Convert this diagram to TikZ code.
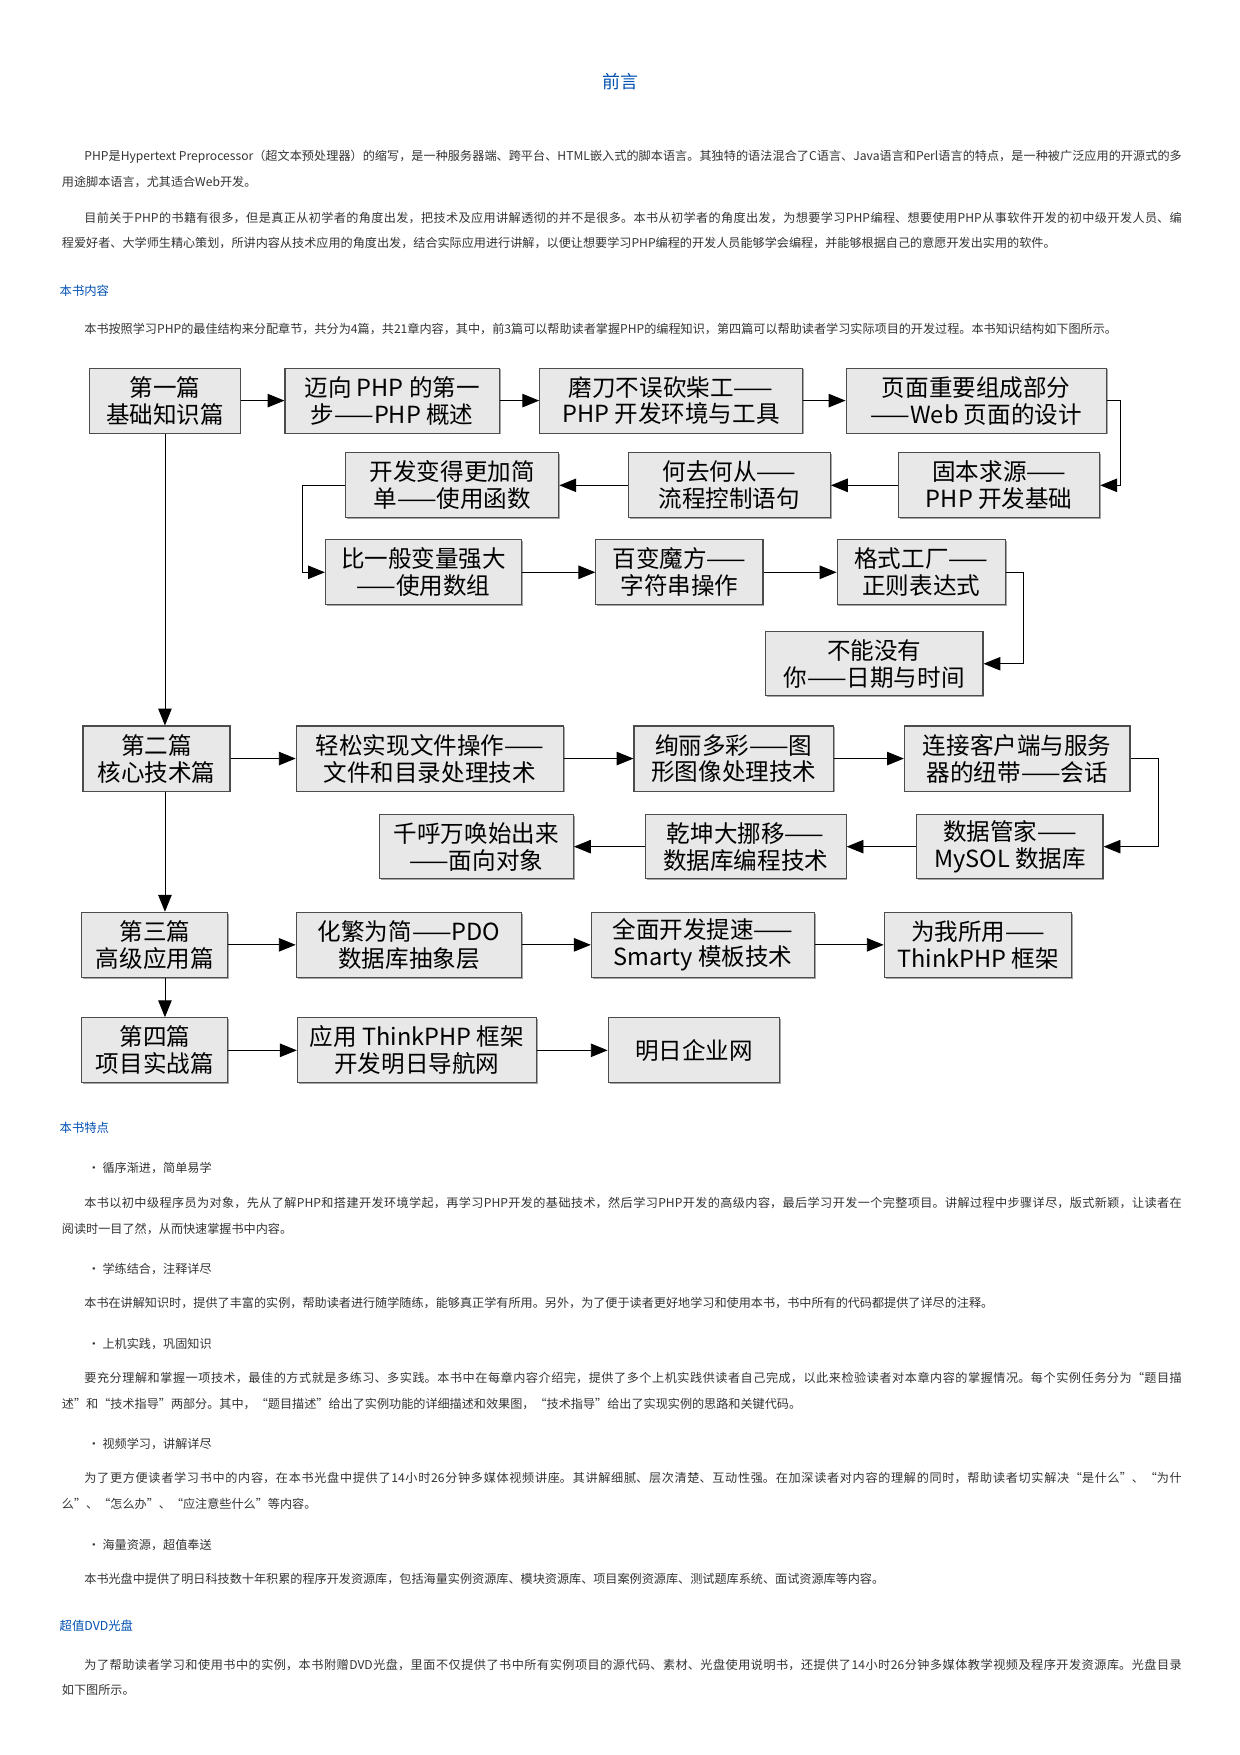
\documentclass[tikz,border=0pt]{standalone}
\usepackage{fontspec}
\setmainfont{Noto Sans CJK SC}
\usetikzlibrary{arrows.meta}
\XeTeXlinebreaklocale "zh"
\XeTeXlinebreakskip=0pt plus 1pt

\tikzset{
  part/.style={draw=black!70, fill=black!9, line width=1pt, minimum height=58pt,
    align=center, inner sep=1pt, font=\fontsize{21}{24}\selectfont,
    preaction={fill=black!35, transform canvas={shift={(1.2pt,-1.2pt)}}}},
  arr/.style={line width=0.8pt, -{Triangle[length=15pt,width=12pt]}},
  para/.style={anchor=north west, text width=998pt, align=justify, inner sep=0pt,
    font=\fontsize{10.8}{22.5}\selectfont, text=black!80},
  head/.style={anchor=west, inner sep=0pt, font=\fontsize{11}{13}\selectfont, text=blue!55!cyan!70!black},
  item/.style={anchor=west, inner sep=0pt, font=\fontsize{10.8}{12}\selectfont, text=black!80}
}

\begin{document}
\begin{tikzpicture}[x=1pt,y=-1pt]
\useasboundingbox (0,0) rectangle (1105,1564);

%TITEL UND EINLEITUNG
\node[inner sep=0pt, font=\fontsize{16}{18}\selectfont, text=blue!55!cyan!70!black] (title) at (553,73) {前言};
\node[para] (p1) at (55,134) {\hspace*{20pt}PHP是Hypertext Preprocessor（超文本预处理器）的缩写，是一种服务器端、跨平台、HTML嵌入式的脚本语言。其独特的语法混合了C语言、Java语言和Perl语言的特点，是一种被广泛应用的开源式的多\linebreak 用途脚本语言，尤其适合Web开发。};
\node[para] (p2) at (55,189) {\hspace*{20pt}目前关于PHP的书籍有很多，但是真正从初学者的角度出发，把技术及应用讲解透彻的并不是很多。本书从初学者的角度出发，为想要学习PHP编程、想要使用PHP从事软件开发的初中级开发人员、编\linebreak 程爱好者、大学师生精心策划，所讲内容从技术应用的角度出发，结合实际应用进行讲解，以便让想要学习PHP编程的开发人员能够学会编程，并能够根据自己的意愿开发出实用的软件。};
\node[head] (h1) at (53,259) {本书内容};
\node[para] (p3) at (55,288) {\hspace*{20pt}本书按照学习PHP的最佳结构来分配章节，共分为4篇，共21章内容，其中，前3篇可以帮助读者掌握PHP的编程知识，第四篇可以帮助读者学习实际项目的开发过程。本书知识结构如下图所示。};

%ZEILE 1
\node[part, minimum width=134pt] (a1) at (147,357) {第一篇\\基础知识篇};
\node[part, minimum width=191pt] (a2) at (349.5,357) {迈向 PHP 的第一\\步——PHP 概述};
\node[part, minimum width=234pt] (a3) at (598,357) {磨刀不误砍柴工——\\PHP 开发环境与工具};
\node[part, minimum width=232pt] (a4) at (870,357) {页面重要组成部分\\——Web 页面的设计};

%ZEILE 2
\node[part, minimum width=179pt] (b1) at (890.5,432.5) {固本求源——\\PHP 开发基础};
\node[part, minimum width=180pt] (b2) at (650,432.5) {何去何从——\\流程控制语句};
\node[part, minimum width=190pt] (b3) at (403,432.5) {开发变得更加简\\单——使用函数};

%ZEILE 3
\node[part, minimum width=175pt] (c1) at (377.5,510) {比一般变量强大\\——使用数组};
\node[part, minimum width=149pt] (c2) at (605.5,510) {百变魔方——\\字符串操作};
\node[part, minimum width=150pt] (c3) at (821,510) {格式工厂——\\正则表达式};
\node[part, minimum width=194pt, minimum height=57pt] (d1) at (779,591.5) {不能没有\\你——日期与时间};

%ZEILE 4
\node[part, minimum width=131pt] (e1) at (139.5,676) {第二篇\\核心技术篇};
\node[part, minimum width=238pt] (e2) at (383,676) {轻松实现文件操作——\\文件和目录处理技术};
\node[part, minimum width=178pt] (e3) at (654,676) {绚丽多彩——图\\形图像处理技术};
\node[part, minimum width=201pt] (e4) at (906.5,676) {连接客户端与服务\\器的纽带——会话};

%ZEILE 5
\node[part, minimum width=166pt, minimum height=57pt] (f1) at (900,754.5) {数据管家——\\MySOL 数据库};
\node[part, minimum width=179pt, minimum height=57pt] (f2) at (664.5,754.5) {乾坤大挪移——\\数据库编程技术};
\node[part, minimum width=173pt, minimum height=57pt] (f3) at (424.5,754.5) {千呼万唤始出来\\——面向对象};

%ZEILE 6
\node[part, minimum width=130pt] (g1) at (138,842) {第三篇\\高级应用篇};
\node[part, minimum width=201pt] (g2) at (364.5,842) {化繁为简——PDO\\数据库抽象层};
\node[part, minimum width=199pt] (g3) at (626.5,842) {全面开发提速——\\Smarty 模板技术};
\node[part, minimum width=167pt] (g4) at (871.5,842) {为我所用——\\ThinkPHP 框架};

%ZEILE 7
\node[part, minimum width=130pt] (h1b) at (138,936) {第四篇\\项目实战篇};
\node[part, minimum width=213pt] (h2) at (371.5,936) {应用 ThinkPHP 框架\\开发明日导航网};
\node[part, minimum width=153pt] (h3) at (618.5,936) {明日企业网};

%PFEILE
\draw[arr] (a1) -- (a2);
\draw[arr] (a2) -- (a3);
\draw[arr] (a3) -- (a4);
\draw[arr] (a4.east) -- ++(12,0) |- (b1.east);
\draw[arr] (b1) -- (b2);
\draw[arr] (b2) -- (b3);
\draw[arr] (b3.west) -- ++(-38,0) |- (c1.west);
\draw[arr] (c1) -- (c2);
\draw[arr] (c2) -- (c3);
\draw[arr] (c3.east) -- ++(16,0) |- (d1.east);
\draw[arr] (a1.south) -- (a1.south |- e1.north);
\draw[arr] (e1) -- (e2);
\draw[arr] (e2) -- (e3);
\draw[arr] (e3) -- (e4);
\draw[arr] (e4.east) -- ++(25,0) |- (f1.east);
\draw[arr] (f1) -- (f2);
\draw[arr] (f2) -- (f3);
\draw[arr] (e1.south -| a1.south) -- (a1.south |- g1.north);
\draw[arr] (g1) -- (g2);
\draw[arr] (g2) -- (g3);
\draw[arr] (g3) -- (g4);
\draw[arr] (g1.south -| a1.south) -- (a1.south |- h1b.north);
\draw[arr] (h1b) -- (h2);
\draw[arr] (h2) -- (h3);

%BUCHMERKMALE
\node[head] (h2t) at (53,1005) {本书特点};
\node[item] (i1) at (78,1041) {· 循序渐进，简单易学};
\node[para] (q1) at (55,1067) {\hspace*{20pt}本书以初中级程序员为对象，先从了解PHP和搭建开发环境学起，再学习PHP开发的基础技术，然后学习PHP开发的高级内容，最后学习开发一个完整项目。讲解过程中步骤详尽，版式新颖，让读者在\linebreak 阅读时一目了然，从而快速掌握书中内容。};
\node[item] (i2) at (78,1131) {· 学练结合，注释详尽};
\node[para] (q2) at (55,1156) {\hspace*{20pt}本书在讲解知识时，提供了丰富的实例，帮助读者进行随学随练，能够真正学有所用。另外，为了便于读者更好地学习和使用本书，书中所有的代码都提供了详尽的注释。};
\node[item] (i3) at (78,1198) {· 上机实践，巩固知识};
\node[para] (q3) at (55,1223) {\hspace*{20pt}要充分理解和掌握一项技术，最佳的方式就是多练习、多实践。本书中在每章内容介绍完，提供了多个上机实践供读者自己完成，以此来检验读者对本章内容的掌握情况。每个实例任务分为“题目描\linebreak 述”和“技术指导”两部分。其中，“题目描述”给出了实例功能的详细描述和效果图，“技术指导”给出了实现实例的思路和关键代码。};
\node[item] (i4) at (78,1287) {· 视频学习，讲解详尽};
\node[para] (q4) at (55,1312) {\hspace*{20pt}为了更方便读者学习书中的内容，在本书光盘中提供了14小时26分钟多媒体视频讲座。其讲解细腻、层次清楚、互动性强。在加深读者对内容的理解的同时，帮助读者切实解决“是什么”、“为什\linebreak 么”、“怎么办”、“应注意些什么”等内容。};
\node[item] (i5) at (78,1377) {· 海量资源，超值奉送};
\node[para] (q5) at (55,1402) {\hspace*{20pt}本书光盘中提供了明日科技数十年积累的程序开发资源库，包括海量实例资源库、模块资源库、项目案例资源库、测试题库系统、面试资源库等内容。};
\node[head] (h3t) at (53,1449) {超值DVD光盘};
\node[para] (q6) at (55,1478) {\hspace*{20pt}为了帮助读者学习和使用书中的实例，本书附赠DVD光盘，里面不仅提供了书中所有实例项目的源代码、素材、光盘使用说明书，还提供了14小时26分钟多媒体教学视频及程序开发资源库。光盘目录\linebreak 如下图所示。};
\end{tikzpicture}
\end{document}
